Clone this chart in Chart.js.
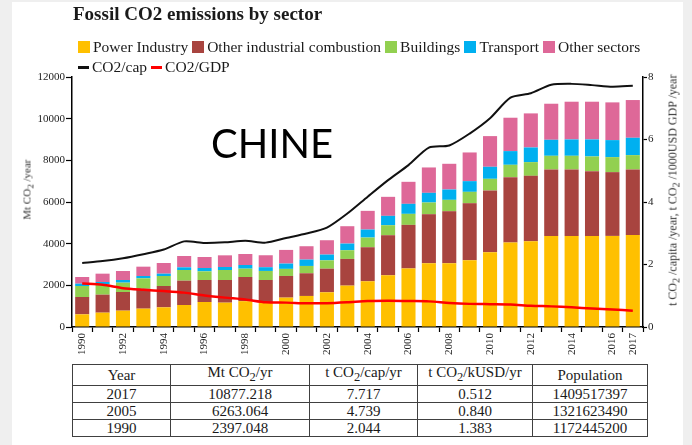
<!DOCTYPE html>
<html>
<head>
<meta charset="utf-8">
<script src="https://cdn.jsdelivr.net/npm/chart.js@4.4.0/dist/chart.umd.min.js"></script>
<style>
  html, body { margin: 0; padding: 0; }
  body {
    width: 692px; height: 445px; position: relative; overflow: hidden;
    background: #efefef; color: #1a1a1a;
    font-family: "Liberation Serif", "Times New Roman", serif;
  }
  #panel { position: absolute; left: 12px; top: 2px; width: 671px; height: 443px; background: #fff; }
  #chart { position: absolute; left: 0; top: 0; }
  #title { position: absolute; left: 73px; top: 3px; font-size: 19px; font-weight: bold; white-space: nowrap; }
  .legend-row { position: absolute; left: 78px; display: flex; align-items: center; font-size: 15.5px; white-space: nowrap; }
  .legend-item { display: flex; align-items: center; margin-right: 4px; }
  .legend-box { width: 12px; height: 12px; margin-right: 3px; }
  .legend-dash { width: 11px; height: 3px; margin-right: 3px; }
  #china { position: absolute; left: 211px; top: 119px; font-family: Lato, "Open Sans", sans-serif; font-size: 40px; color: #000; }
  .axis-title { position: absolute; white-space: nowrap; color: #333; transform-origin: center center; }
  #yTitle { font-size: 11px; }
  #y1Title { font-size: 12px; }
  table { position: absolute; left: 72px; top: 364px; border-collapse: collapse; font-size: 15px; }
  td, th { border: 1.5px solid #404040; text-align: center; font-weight: normal; padding: 0; line-height: 15px; }
  th { height: 17px; }
  td { height: 16px; }
</style>
</head>
<body>
<canvas id="chart" width="692" height="362"></canvas>
<div id="title">Fossil CO2 emissions by sector</div>
<div class="legend-row" id="legend1" style="top:38px"></div>
<div class="legend-row" id="legend2" style="top:58px"></div>
<div id="china">CHINE</div>
<div class="axis-title" id="yTitle">Mt CO<sub>2</sub> /year</div>
<div class="axis-title" id="y1Title">t CO<sub>2</sub> /capita /year, t CO<sub>2</sub> /1000USD GDP /year</div>
<table id="tbl"></table>
<script>
// données (Mt CO2 / an)
const years = ['1990','1991','1992','1993','1994','1995','1996','1997','1998','1999','2000','2001','2002','2003',
               '2004','2005','2006','2007','2008','2009','2010','2011','2012','2013','2014','2015','2016','2017'];
const powerIndustry = [608, 688, 784, 880, 944, 1056, 1200, 1168, 1240, 1170, 1410, 1490, 1666, 1986,
                       2195, 2483, 2810, 3060, 3060, 3204, 3588, 4053, 4117, 4373, 4373, 4373, 4373, 4422];
const otherIndustrial = [832, 864, 896, 960, 1024, 1168, 1056, 1088, 1160, 1086, 1040, 1090, 1134, 1282,
                         1634, 1923, 2092, 2355, 2499, 2739, 2964, 3140, 3140, 3188, 3188, 3108, 3060, 3139];
const buildings = [528, 496, 448, 496, 480, 512, 416, 480, 400, 434, 340, 350, 400, 417,
                   464, 480, 529, 560, 545, 545, 561, 593, 657, 657, 657, 705, 721, 689];
const transport = [112, 112, 128, 112, 112, 128, 160, 144, 176, 180, 255, 306, 276, 320,
                   385, 449, 481, 465, 496, 513, 577, 657, 705, 769, 785, 817, 817, 833];
const otherSectors = [320, 400, 432, 448, 512, 544, 528, 560, 528, 574, 655, 641, 689, 833,
                      897, 913, 1057, 1218, 1234, 1377, 1473, 1602, 1634, 1730, 1811, 1811, 1811, 1811];
// axe de droite
const co2PerCap = [2.05, 2.11, 2.20, 2.33, 2.48, 2.74, 2.69, 2.71, 2.76, 2.70, 2.85, 2.99, 3.18, 3.63,
                   4.17, 4.70, 5.18, 5.74, 5.81, 6.19, 6.68, 7.34, 7.48, 7.75, 7.78, 7.74, 7.69, 7.72];
const co2PerGdp = [1.39, 1.35, 1.24, 1.19, 1.15, 1.10, 1.01, 0.94, 0.88, 0.79, 0.78, 0.76, 0.76, 0.79,
                   0.83, 0.84, 0.83, 0.82, 0.77, 0.74, 0.73, 0.72, 0.68, 0.66, 0.63, 0.59, 0.56, 0.52];
// tableau
const tableYears = ['2017', '2005', '1990'];
const tableMt = ['10877.218', '6263.064', '2397.048'];
const tableCap = ['7.717', '4.739', '2.044'];
const tableGdp = ['0.512', '0.840', '1.383'];
const tablePop = ['1409517397', '1321623490', '1172445200'];

const serif = '"Liberation Serif", "Times New Roman", serif';

function bar(label, data, color) {
  return { type: 'bar', label: label, data: data, backgroundColor: color, yAxisID: 'y', order: 2,
           barPercentage: 0.69, categoryPercentage: 1, borderWidth: 0 };
}
function line(label, data, color, w) {
  return { type: 'line', label: label, data: data, borderColor: color, backgroundColor: color, borderWidth: w,
           yAxisID: 'y1', order: 0, pointRadius: 0, tension: 0.25 };
}

const chart = new Chart(document.getElementById('chart'), {
  data: {
    labels: years,
    datasets: [
      bar('Power Industry', powerIndustry, '#FFC000'),
      bar('Other industrial combustion', otherIndustrial, '#A8443F'),
      bar('Buildings', buildings, '#92D050'),
      bar('Transport', transport, '#00B0F0'),
      bar('Other sectors', otherSectors, '#DE6898'),
      line('CO2/cap', co2PerCap, '#111111', 2),
      line('CO2/GDP', co2PerGdp, '#FF0000', 2.5)
    ]
  },
  options: {
    responsive: false,
    animation: false,
    layout: { padding: { top: 77, left: 0, right: 0, bottom: 0 } },
    plugins: { legend: { display: false }, tooltip: { enabled: false } },
    scales: {
      x: {
        stacked: true,
        afterFit: s => { s.height = 35; },
        border: { color: '#000', width: 1.5 },
        grid: { drawOnChartArea: false, offset: true, tickLength: 5, color: '#000', tickWidth: 1.2 },
        ticks: {
          autoSkip: false, maxRotation: 90, minRotation: 90, padding: 1,
          font: { family: serif, size: 11 }, color: '#222',
          callback: function (v, i) {
            const y = years[i];
            return (Number(y) % 2 === 0 || y === '2017') ? y : '';
          }
        }
      },
      y: {
        stacked: true, position: 'left', min: 0, max: 12000,
        afterFit: s => { s.width = 72; },
        border: { color: '#000', width: 1.5 },
        grid: { drawOnChartArea: false, tickLength: 6, color: '#000', tickWidth: 1.2 },
        ticks: { stepSize: 2000, padding: 1, font: { family: serif, size: 11 }, color: '#222',
                 callback: v => String(v) }
      },
      y1: {
        position: 'right', min: 0, max: 8,
        afterFit: s => { s.width = 49; },
        border: { color: '#000', width: 1.5 },
        grid: { drawOnChartArea: false, tickLength: 4, color: '#000', tickWidth: 1.2 },
        ticks: { stepSize: 2, padding: 1, font: { family: serif, size: 11 }, color: '#222',
                 callback: v => String(v) }
      }
    }
  }
});

// légende html (deux lignes comme l'original)
chart.data.datasets.forEach(function (ds) {
  const item = document.createElement('div');
  item.className = 'legend-item';
  const mark = document.createElement('span');
  mark.className = ds.type === 'bar' ? 'legend-box' : 'legend-dash';
  mark.style.background = ds.type === 'bar' ? ds.backgroundColor : ds.borderColor;
  item.appendChild(mark);
  item.appendChild(document.createTextNode(ds.label));
  document.getElementById(ds.type === 'bar' ? 'legend1' : 'legend2').appendChild(item);
});

// titres des axes (texte vertical)
function placeVertical(id, cx, cy) {
  const el = document.getElementById(id);
  const w = el.offsetWidth, h = el.offsetHeight;
  el.style.left = (cx - w / 2) + 'px';
  el.style.top = (cy - h / 2) + 'px';
  el.style.transform = 'rotate(-90deg)';
}
placeVertical('yTitle', 28, 189);
placeVertical('y1Title', 673, 190);

// tableau récapitulatif
const tbl = document.getElementById('tbl');
const colW = [97, 138, 107, 114, 114];
const head = ['Year', 'Mt CO<sub>2</sub>/yr', 't CO<sub>2</sub>/cap/yr', 't CO<sub>2</sub>/kUSD/yr', 'Population'];
let html = '<tr>' + head.map((h, i) => '<th style="width:' + colW[i] + 'px">' + h + '</th>').join('') + '</tr>';
tableYears.forEach(function (y, i) {
  html += '<tr><td>' + y + '</td><td>' + tableMt[i] + '</td><td>' + tableCap[i] + '</td><td>' +
          tableGdp[i] + '</td><td>' + tablePop[i] + '</td></tr>';
});
tbl.innerHTML = html;
</script>
<div id="panel" style="z-index:-1"></div>
</body>
</html>
